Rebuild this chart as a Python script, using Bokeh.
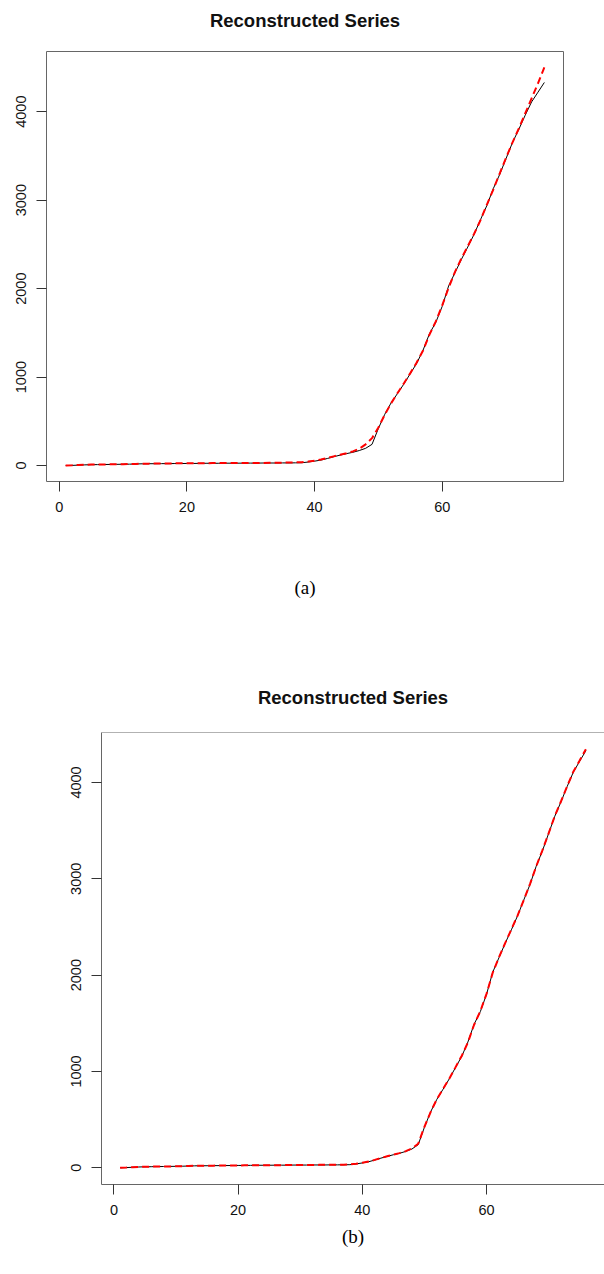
from bokeh.plotting import figure
from bokeh.models import FixedTicker, Span, LinearAxis
from bokeh.embed import file_html
from bokeh.resources import INLINE

# ---- data ----
t = list(range(1, 77))
original = [0, 2, 5, 8, 10, 11, 12, 13, 14, 15,
            16, 18, 20, 21, 21, 22, 22, 23, 23, 24,
            24, 25, 26, 26, 26, 27, 27, 27, 28, 28,
            28, 29, 29, 29, 30, 30, 31, 32, 40, 50,
            62, 80, 100, 118, 135, 150, 170, 195, 240, 420,
            580, 710, 815, 923, 1040, 1155, 1305, 1490, 1620, 1800,
            2030, 2180, 2330, 2470, 2615, 2780, 2940, 3130, 3290, 3470,
            3650, 3800, 3960, 4110, 4220, 4330]
recon_a = [2, 4, 7, 9, 11, 12, 13, 14, 15, 16,
           17, 19, 21, 22, 23, 24, 24, 25, 25, 26,
           26, 27, 27, 28, 28, 28, 29, 29, 29, 30,
           30, 30, 31, 32, 33, 34, 36, 38, 45, 55,
           68, 85, 104, 122, 140, 160, 190, 240, 310, 430,
           575, 705, 820, 930, 1045, 1165, 1300, 1480, 1630, 1810,
           2010, 2190, 2340, 2480, 2620, 2775, 2950, 3120, 3300, 3480,
           3650, 3810, 3980, 4150, 4320, 4500]
recon_b = [1, 3, 6, 9, 10, 12, 13, 13, 14, 15,
           17, 19, 20, 21, 22, 22, 23, 23, 24, 24,
           25, 25, 26, 26, 27, 27, 27, 28, 28, 28,
           29, 29, 30, 30, 30, 31, 32, 34, 42, 52,
           64, 82, 101, 119, 136, 152, 172, 200, 250, 425,
           578, 712, 818, 925, 1042, 1160, 1300, 1485, 1625, 1805,
           2025, 2185, 2332, 2475, 2618, 2778, 2945, 3128, 3295, 3472,
           3652, 3805, 3962, 4115, 4228, 4345]
x_ticks = [0, 20, 40, 60]
y_ticks = [0, 1000, 2000, 3000, 4000]
title_text = "Reconstructed Series"
captions = ["(a)", "(b)"]

SANS = "Liberation Sans"
SERIF = "Liberation Serif"
BOX = "#666666"
TICK = "#333333"


def r_range(vals):
    lo, hi = min(vals), max(vals)
    d = hi - lo
    return (lo - 0.04 * d, hi + 0.04 * d)


def make_panel(recon, caption, width, height, bl, br, bt, bb,
               title_standoff, caption_standoff, outline):
    xr = r_range(t)
    yr = r_range(original + recon)
    p = figure(width=width, height=height, x_range=xr, y_range=yr,
               output_backend="svg", toolbar_location=None,
               min_border_left=bl, min_border_right=br,
               min_border_top=bt, min_border_bottom=bb)
    p.background_fill_color = "white"
    p.border_fill_color = "white"
    p.grid.visible = False

    bottom = p.below[0]
    left = p.left[0]
    for ax, ticks in ((bottom, x_ticks), (left, y_ticks)):
        ax.ticker = FixedTicker(ticks=ticks)
        ax.minor_tick_line_color = None
        ax.major_tick_in = 0
        ax.major_tick_out = 10
        ax.major_tick_line_color = TICK
        ax.major_label_text_font = SANS
        ax.major_label_text_font_size = "14.5px"
        ax.major_label_text_color = "#111111"
        ax.major_label_standoff = 10
    left.major_label_orientation = "vertical"
    bottom.axis_label = caption
    bottom.axis_label_text_font = SERIF
    bottom.axis_label_text_font_style = "normal"
    bottom.axis_label_text_font_size = "19px"
    bottom.axis_label_text_color = "black"
    bottom.axis_label_standoff = caption_standoff

    # title drawn as the label of a bare axis above the frame
    top = LinearAxis(ticker=FixedTicker(ticks=[]),
                     axis_line_color=None,
                     major_tick_line_color=None,
                     minor_tick_line_color=None,
                     major_tick_in=0, major_tick_out=0,
                     major_label_standoff=0,
                     axis_label=title_text,
                     axis_label_standoff=title_standoff,
                     axis_label_text_font=SANS,
                     axis_label_text_font_size="18.5px",
                     axis_label_text_font_style="bold",
                     axis_label_text_color="#111111")
    p.add_layout(top, "above")

    if outline:
        p.outline_line_color = BOX
        p.outline_line_width = 1
        bottom.axis_line_color = None
        left.axis_line_color = None
    else:
        p.outline_line_color = None
        bottom.axis_line_color = BOX
        left.axis_line_color = BOX
        p.add_layout(Span(location=yr[1], dimension="width",
                          line_color=BOX, line_width=1))

    p.line(t, original, line_color="black", line_width=1)
    p.line(t, recon, line_color="red", line_width=2, line_dash="7 4")
    return p


pa = make_panel(recon_a, captions[0], 604, 640, 46, 41, 51, 159,
                title_standoff=21, caption_standoff=62, outline=True)
pb = make_panel(recon_b, captions[1], 604, 634, 101, 0, 92, 90,
                title_standoff=25, caption_standoff=8, outline=False)

open("out.html", "w").write(file_html([pa, pb], INLINE))
